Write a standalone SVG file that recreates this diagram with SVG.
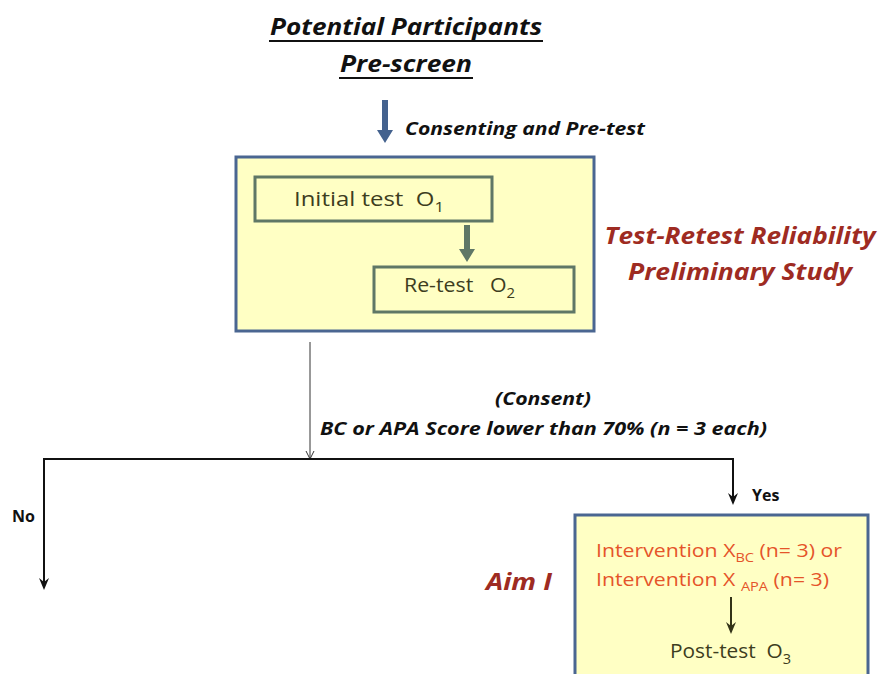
<svg xmlns="http://www.w3.org/2000/svg" width="881" height="674" viewBox="0 0 881 674">
<defs>
<style>
.t{font-family:"Open Sans","Liberation Sans",sans-serif;white-space:pre}
.bi{font-weight:bold;font-style:italic}
.title{font-size:24px;fill:#111}
.lbl{font-size:17px;fill:#111}
.red{font-size:23px;fill:#9e2b22}
.inner{font-size:20px;fill:#3d3d20}
.orange{font-size:19px;fill:#e5542a}
.big{fill:#ffffc4;stroke:#4a6691;stroke-width:3}
.small{fill:none;stroke:#5f7766;stroke-width:3}
.line{stroke:#111;stroke-width:2;fill:none}
</style>
</defs>

<g id="title">
<text class="t bi title" x="406" y="35" text-anchor="middle" textLength="272" lengthAdjust="spacingAndGlyphs">Potential Participants</text>
<line x1="269" y1="41" x2="543" y2="41" stroke="#111" stroke-width="2"/>
<text class="t bi title" x="406" y="72" text-anchor="middle" textLength="132" lengthAdjust="spacingAndGlyphs">Pre-screen</text>
<line x1="339" y1="78" x2="473" y2="78" stroke="#111" stroke-width="2"/>
</g>

<g id="reliability">
<rect class="big" x="236" y="157" width="358" height="174"/>
<text class="t red bi" x="740" y="244" text-anchor="middle" textLength="271" lengthAdjust="spacingAndGlyphs">Test-Retest Reliability</text>
<text class="t red bi" x="740" y="280" text-anchor="middle" textLength="224" lengthAdjust="spacingAndGlyphs">Preliminary Study</text>
</g>

<g id="initial-test">
<rect class="small" x="255" y="177" width="237" height="44"/>
<text class="t inner" x="294" y="206" textLength="150" lengthAdjust="spacingAndGlyphs">Initial test  O<tspan font-size="14" dy="6">1</tspan></text>
</g>

<g id="re-test">
<rect class="small" x="374" y="267" width="200" height="45"/>
<text class="t inner" x="404" y="292" textLength="111" lengthAdjust="spacingAndGlyphs">Re-test   O<tspan font-size="14" dy="6">2</tspan></text>
</g>

<g id="aim1">
<rect class="big" x="575" y="515" width="293" height="170"/>
<text class="t red bi" x="519" y="590" text-anchor="middle" textLength="66" lengthAdjust="spacingAndGlyphs">Aim I</text>
<text class="t orange" x="596" y="557" textLength="246" lengthAdjust="spacingAndGlyphs">Intervention X<tspan font-size="13" dy="5">BC</tspan><tspan dy="-5"> (n= 3) or</tspan></text>
<text class="t orange" x="596" y="586" textLength="233" lengthAdjust="spacingAndGlyphs">Intervention X <tspan font-size="13" dy="5">APA</tspan><tspan dy="-5"> (n= 3)</tspan></text>
<text class="t inner" x="670" y="658" textLength="121" lengthAdjust="spacingAndGlyphs">Post-test  O<tspan font-size="14" dy="6">3</tspan></text>
</g>

<g id="connectors">
<path d="M382,100 H388 V130 H393 L385,143 L377,130 H382 Z" fill="#44628e"/>
<text class="t bi lbl" x="405" y="135" textLength="240" lengthAdjust="spacingAndGlyphs">Consenting and Pre-test</text>
<path d="M464,225 H470 V249 H475 L467,262 L459,249 H464 Z" fill="#5f7766"/>
<line x1="310" y1="342" x2="310" y2="459" stroke="#333" stroke-width="1"/>
<polyline points="306,451 310,459 314,451" fill="none" stroke="#333" stroke-width="1"/>
<text class="t bi lbl" x="543" y="405" text-anchor="middle" textLength="96" lengthAdjust="spacingAndGlyphs">(Consent)</text>
<text class="t bi lbl" x="320" y="435" textLength="447" lengthAdjust="spacingAndGlyphs">BC or APA Score lower than 70% (n = 3 each)</text>
<polyline class="line" points="44,586 44,459 733,459 733,501"/>
<path d="M39,578 L44,590 L49,578 L44,582 Z" fill="#111"/>
<path d="M728,493 L733,505 L738,493 L733,497 Z" fill="#111"/>
<text class="t" x="12" y="522" font-size="16" font-weight="bold" fill="#111">No</text>
<text class="t" x="752" y="501" font-size="16" font-weight="bold" fill="#111">Yes</text>
<line x1="731" y1="597" x2="731" y2="630" stroke="#333318" stroke-width="2"/>
<path d="M726,622 L731,634 L736,622 L731,626 Z" fill="#333318"/>
</g>
</svg>
